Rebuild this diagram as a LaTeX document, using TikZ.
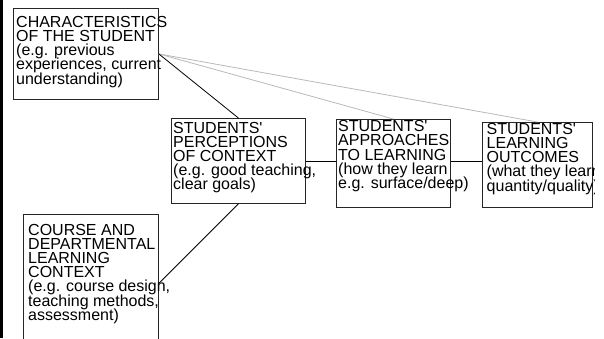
\documentclass[tikz,border=0pt]{standalone}
\usepackage{fontspec}
\newfontfamily\boxfont{Liberation Sans}[Ligatures=TeXOff]
\newcommand\tightlines{\lineskiplimit=-100pt\relax}
\usetikzlibrary{positioning}

\begin{document}
\begin{tikzpicture}[x=1pt,y=-1pt,
  box/.style={draw=black!85,line width=0.8pt,anchor=north west,inner sep=0pt},
  txt/.style={anchor=base west,align=left,inner sep=0pt,
    font=\boxfont\fontsize{16}{14.2}\selectfont\tightlines},
  link/.style={line width=0.8pt},
  faint/.style={link,draw=gray!55}]
\useasboundingbox (0,0) rectangle (604,338);
\fill (0,0) rectangle (2.5,338);
\node[box,minimum width=145pt,minimum height=91pt] (student) at (13,8) {};
\node[txt] (studentText) at ([shift={(3,76)}]student.north west)
  {CHARACTERISTICS\\OF THE STUDENT\\(e.g. previous\\experiences, current\\understanding)};
\node[box,minimum width=134pt,minimum height=85pt] (perception) at (171,118) {};
\node[txt] (perceptionText) at ([shift={(2,71.8)}]perception.north west)
  {STUDENTS'\\PERCEPTIONS\\OF CONTEXT\\(e.g. good teaching,\\clear goals)};
\node[box,minimum width=114pt,minimum height=88pt] (approach) at (336,119) {};
\node[txt] (approachText) at ([shift={(2,69.5)}]approach.north west)
  {STUDENTS'\\APPROACHES\\TO LEARNING\\(how they learn\\e.g. surface/deep)};
\node[box,minimum width=110pt,minimum height=85pt] (outcome) at (482,122) {};
\begin{scope}
\clip (470,100) rectangle (594.5,230);
\node[txt] (outcomeText) at ([shift={(4.5,69.1)}]outcome.north west)
  {STUDENTS'\\LEARNING\\OUTCOMES\\(what they learn\\quantity/quality)};
\end{scope}
\node[box,minimum width=135pt,minimum height=138pt] (context) at (23,214) {};
\node[txt] (contextText) at ([shift={(5,106.2)}]context.north west)
  {COURSE AND\\DEPARTMENTAL\\LEARNING\\CONTEXT\\(e.g. course design,\\teaching methods,\\assessment)};
\draw[faint] (student.east) -- (approach.north);
\draw[faint] (student.east) -- (outcome.north);
\draw[link] (student.east) -- (perception.north);
\draw[link] (context.east) -- (perception.south);
\draw[link] (perception.east) -- (approach.west |- perception.east);
\draw[link] (approach.east |- perception.east) -- (outcome.west |- perception.east);
\end{tikzpicture}
\end{document}
